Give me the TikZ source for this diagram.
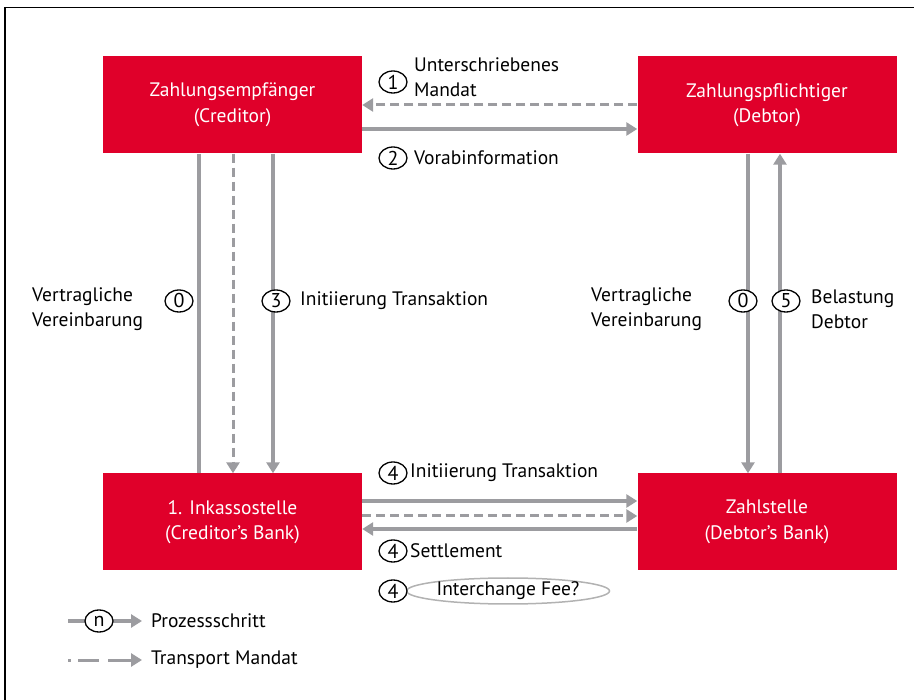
\documentclass[tikz,border=0pt]{standalone}
\usepackage{fontspec}
\setmainfont{PT Sans}
\usetikzlibrary{arrows.meta,shapes.geometric}
\definecolor{separed}{HTML}{E0002A}
\definecolor{arrowgray}{HTML}{9C9CA0}

\begin{document}
\begin{tikzpicture}[x=1pt, y=-1pt,
    font=\fontsize{19.5}{25.5}\selectfont,
    party/.style={fill=separed, text=white, minimum width=259pt, minimum height=97pt, align=center, inner sep=0pt},
    flow/.style={draw=arrowgray, line width=3.5pt},
    flowarrow/.style={flow, -{Triangle[length=11pt, width=13pt]}},
    mandat/.style={flowarrow, line width=3pt, dash pattern=on 9pt off 5pt},
    stepmark/.style={ellipse, draw=black, line width=1.3pt, fill=white, minimum width=28pt, minimum height=22pt, inner sep=0pt, font=\fontsize{20}{22}\selectfont},
    lbl/.style={anchor=west, align=left, inner sep=2pt}]
    \useasboundingbox (0,0) rectangle (914,700);
    %\draw[help lines, step=50] (0,0) grid (914,700);

    \draw[line width=1.5pt] (5,700) -- (5,7.5) -- (914,7.5);

    \node[party] (cred) at (232.5,105) {Zahlungsempfänger\\(Creditor)};
    \node[party] (debt) at (767,105) {Zahlungspflichtiger\\(Debtor)};
    \node[party] (inkasso) at (232.5,522) {1. Inkassostelle\\(Creditor’s Bank)};
    \node[party] (zahl) at (767,522) {Zahlstelle\\(Debtor’s Bank)};

    % creditor <-> debtor
    \draw[mandat] (debt.west) -- (cred.east);
    \draw[flowarrow] ([yshift=-24pt]cred.east) -- ([yshift=-24pt]debt.west);

    % creditor -> bank
    \draw[flow] ([xshift=-33.5pt]cred.south) -- ([xshift=-33.5pt]inkasso.north);
    \draw[mandat] ([xshift=0.5pt]cred.south) -- ([xshift=0.5pt]inkasso.north);
    \draw[flowarrow] ([xshift=40.5pt]cred.south) -- ([xshift=40.5pt]inkasso.north);

    % debtor <-> bank
    \draw[flowarrow] ([xshift=-19pt]debt.south) -- ([xshift=-19pt]zahl.north);
    \draw[flowarrow] ([xshift=13pt]zahl.north) -- ([xshift=13pt]debt.south);

    % bank <-> bank
    \draw[flowarrow] ([yshift=21pt]inkasso.east) -- ([yshift=21pt]zahl.west);
    \draw[mandat] ([yshift=6pt]inkasso.east) -- ([yshift=6pt]zahl.west);
    \draw[flowarrow] ([yshift=-7pt]zahl.west) -- ([yshift=-7pt]inkasso.east);

    \node[stepmark] (s1) at (393,82) {1};
    \node[lbl] (l1) at (412,77) {Unterschriebenes\\Mandat};
    \node[stepmark] (s2) at (393,158) {2};
    \node[lbl] (l2) at (412,158) {Vorabinformation};

    \node[lbl] (l0a) at (30,309) {Vertragliche\\Vereinbarung};
    \node[stepmark] (s0a) at (179,301) {0};
    \node[stepmark] (s3) at (276,301) {3};
    \node[lbl] (l3) at (298,301) {Initiierung Transaktion};

    \node[lbl] (l0b) at (589,309) {Vertragliche\\Vereinbarung};
    \node[stepmark] (s0b) at (743,301) {0};
    \node[stepmark] (s5) at (786,301) {5};
    \node[lbl] (l5) at (809,309) {Belastung\\Debtor};

    \node[stepmark] (s4a) at (393,473) {4};
    \node[lbl] (l4a) at (408,473) {Initiierung Transaktion};
    \node[stepmark] (s4b) at (393,551) {4};
    \node[lbl] (l4b) at (408,551) {Settlement};
    \node[ellipse, draw=gray!60, line width=1.5pt, minimum width=203pt, minimum height=26pt, inner sep=0pt] (fee) at (508,591) {Interchange Fee?};
    \node[stepmark] (s4c) at (393,591) {4};

    % legend
    \coordinate (lgA) at (68,621);
    \coordinate (lgB) at (142,621);
    \draw[flowarrow] (lgA) -- (lgB);
    \node[stepmark] (lgn) at (99,621) {n};
    \node[lbl] (lgt1) at (149,621) {Prozessschritt};
    \coordinate (lgC) at (68,660);
    \coordinate (lgD) at (142,660);
    \draw[mandat, dash pattern=on 3pt off 7pt on 21pt off 9pt on 40pt off 1pt] (lgC) -- (lgD);
    \node[lbl] (lgt2) at (149,660) {Transport Mandat};

\end{tikzpicture}
\end{document}
